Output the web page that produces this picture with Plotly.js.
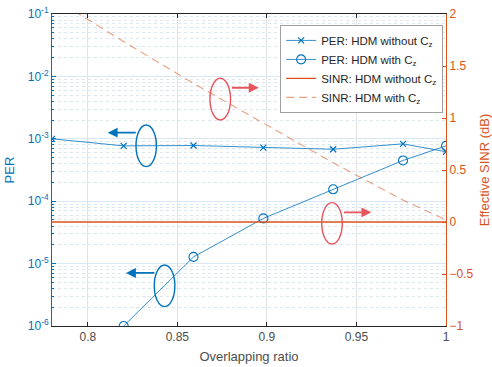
<!DOCTYPE html>
<html>
<head>
<meta charset="utf-8">
<script src="https://cdn.plot.ly/plotly-3.0.1.min.js"></script>
<style>html,body{margin:0;padding:0;background:#fff;}#chart{width:492px;height:367px;}</style>
</head>
<body>
<div id="chart"></div>
<script>
// ---- data ----
const overlapRatio = [0.78, 0.82, 0.859, 0.898, 0.937, 0.976, 1.0];
const perWithoutCz = [1.0e-3, 7.7e-4, 7.8e-4, 7.2e-4, 6.8e-4, 8.3e-4, 6.2e-4];
const perWithCz    = [null, 1.0e-6, 1.28e-5, 5.3e-5, 1.55e-4, 4.5e-4, 7.7e-4];
const sinrWithoutCz = [0, 0, 0, 0, 0, 0, 0];
const sinrWithCz    = [2.16, 1.735, 1.333, 0.949, 0.569, 0.211, 0.02];
const perTickVals = [1e-6, 1e-5, 1e-4, 1e-3, 1e-2, 1e-1];
const perTickText = ['10<sup>-6</sup>','10<sup>-5</sup>','10<sup>-4</sup>','10<sup>-3</sup>','10<sup>-2</sup>','10<sup>-1</sup>'];
const xTickVals = [0.8, 0.85, 0.9, 0.95, 1];
const xTickText = ['0.8', '0.85', '0.9', '0.95', '1'];
const seriesNames = ['PER: HDM without C<sub>z</sub>', 'PER: HDM with C<sub>z</sub>', 'SINR: HDM without C<sub>z</sub>', 'SINR: HDM with C<sub>z</sub>'];

// ---- styles ----
const BLUE = '#0072BD', ORANGE = '#D95319', GRAY = '#4d4d4d', RED = '#E8545C';
const FONT = 'Liberation Sans, Arial, Helvetica, sans-serif';

const minorVals = [];
perTickVals.slice(0, -1).forEach(d => { for (let k = 2; k <= 9; k++) minorVals.push(d * k); });

const traces = [
  {x: overlapRatio, y: perWithoutCz, name: seriesNames[0], type: 'scatter', mode: 'lines+markers',
   line: {color: BLUE, width: 0.8}, marker: {symbol: 'x-thin-open', size: 6, color: BLUE, line: {color: BLUE, width: 1.2}}},
  {x: overlapRatio, y: perWithCz, name: seriesNames[1], type: 'scatter', mode: 'lines+markers',
   line: {color: BLUE, width: 0.8}, marker: {symbol: 'circle-open', size: 9, color: BLUE, line: {color: BLUE, width: 1.1}}},
  {x: overlapRatio, y: sinrWithoutCz, name: seriesNames[2], type: 'scatter', mode: 'lines', yaxis: 'y2',
   line: {color: ORANGE, width: 1.3}},
  {x: overlapRatio, y: sinrWithCz, name: seriesNames[3], type: 'scatter', mode: 'lines', yaxis: 'y2',
   line: {color: 'rgba(217,83,25,0.55)', width: 1.1, dash: '8px,5px'}}
];

// decorative ellipses and arrows (data coords on x / y2)
const ellipses = [
  {x0: 0.8269, x1: 0.8383, y0: 0.532, y1: 0.933, c: BLUE},
  {x0: 0.8371, x1: 0.8486, y0: -0.814, y1: -0.413, c: BLUE},
  {x0: 0.8682, x1: 0.8797, y0: 0.981, y1: 1.382, c: RED},
  {x0: 0.9306, x1: 0.9421, y0: -0.212, y1: 0.186, c: RED}
];
const arrows = [
  {tx: 0.8276, hx: 0.8111, y: 0.859, c: BLUE},
  {tx: 0.8380, hx: 0.8213, y: -0.490, c: BLUE},
  {tx: 0.8797, hx: 0.8954, y: 1.291, c: RED},
  {tx: 0.9421, hx: 0.9583, y: 0.093, c: RED}
];

const layout = {
  width: 492, height: 367,
  margin: {l: 52, r: 46, t: 14, b: 41, pad: 0},
  paper_bgcolor: '#fff', plot_bgcolor: '#fff',
  font: {family: FONT, size: 12, color: GRAY},
  showlegend: true,
  legend: {x: 0.579, y: 0.965, xanchor: 'left', yanchor: 'top', bgcolor: '#fff',
           bordercolor: '#a0a0a0', borderwidth: 1, font: {family: FONT, size: 11.5, color: '#262626'},
           tracegroupgap: 0, itemwidth: 30},
  xaxis: {range: [0.78, 1], tickmode: 'array', tickvals: xTickVals, ticktext: xTickText,
          showline: true, linecolor: '#262626', linewidth: 1, mirror: 'ticks',
          ticks: 'inside', ticklen: 4, tickcolor: '#262626',
          showgrid: true, gridcolor: '#e2e2e2', gridwidth: 1, zeroline: false,
          tickfont: {family: FONT, size: 12, color: GRAY},
          title: {text: 'Overlapping ratio', font: {family: FONT, size: 13, color: GRAY}, standoff: 8}},
  yaxis: {type: 'log', range: [-6, -1], tickmode: 'array', tickvals: perTickVals, ticktext: perTickText,
          showline: true, linecolor: BLUE, linewidth: 1, ticks: 'inside', ticklen: 4, tickcolor: BLUE,
          showgrid: true, gridcolor: '#d8e7f2', gridwidth: 1, zeroline: false,
          minor: {tickmode: 'array', tickvals: minorVals, ticks: 'inside', ticklen: 2, tickcolor: BLUE,
                  showgrid: true, gridcolor: '#dbe6ee', griddash: 'dot', gridwidth: 1},
          tickfont: {family: FONT, size: 12, color: BLUE},
          title: {text: 'PER', font: {family: FONT, size: 13, color: BLUE}, standoff: 10}},
  yaxis2: {overlaying: 'y', side: 'right', range: [-1, 2], dtick: 0.5, tick0: -1,
           showline: true, linecolor: ORANGE, linewidth: 1, ticks: 'inside', ticklen: 4, tickcolor: ORANGE,
           showgrid: false, zeroline: false,
           tickfont: {family: FONT, size: 12, color: ORANGE},
           title: {text: 'Effective SINR (dB)', font: {family: FONT, size: 13, color: ORANGE}, standoff: 8}},
  shapes: ellipses.map(e => ({type: 'circle', xref: 'x', yref: 'y2', x0: e.x0, x1: e.x1, y0: e.y0, y1: e.y1,
                              line: {color: e.c, width: 1.4}, fillcolor: 'rgba(0,0,0,0)'})),
  annotations: arrows.map(a => ({xref: 'x', yref: 'y2', axref: 'x', ayref: 'y2', x: a.hx, y: a.y, ax: a.tx, ay: a.y,
                                 text: '', showarrow: true, arrowhead: 2, arrowsize: 1.1, arrowwidth: 1.8, arrowcolor: a.c}))
};

Plotly.newPlot('chart', traces, layout, {displayModeBar: false, staticPlot: true});
</script>
</body>
</html>
